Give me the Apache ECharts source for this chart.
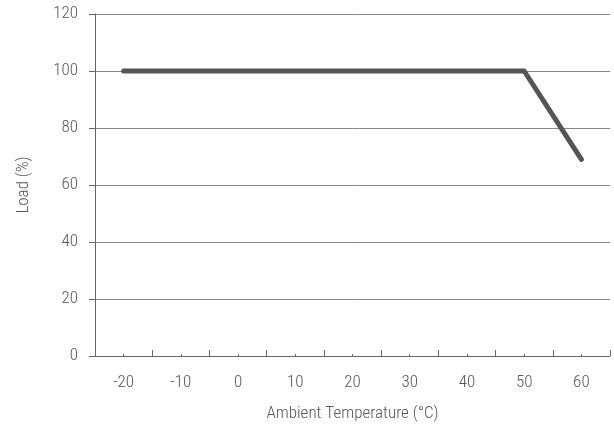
<!DOCTYPE html>
<html><head><meta charset="utf-8">
<script src="https://cdn.jsdelivr.net/npm/echarts@6/dist/echarts.min.js"></script>
<style>html,body{margin:0;padding:0;background:#fff}#c{width:614px;height:427px}</style>
</head><body><div id="c"></div>
<script>
const xLabels = ['-20','-10','0','10','20','30','40','50','60'];
const curveTemp = [-20, 50, 60];
const curveLoad = [100, 100, 69];
const yTicks = [0, 20, 40, 60, 80, 100, 120];

const FONT = '"Roboto Condensed", "Liberation Sans Narrow", Roboto, sans-serif';
const chart = echarts.init(document.getElementById('c'));
chart.setOption({
  animation: false,
  grid: {left: 95, right: 4, top: 14, bottom: 71},
  xAxis: [{
    type: 'value', min: -25, max: 65, interval: 10,
    axisLine: {show: true, onZero: false, lineStyle: {color: '#666', width: 1}},
    axisTick: {show: true, inside: true, length: 6, lineStyle: {color: '#666'}},
    axisLabel: {show: false},
    splitLine: {show: false},
    name: 'Ambient Temperature (°C)', nameLocation: 'middle', nameGap: 49,
    nameTextStyle: {color: '#555', fontSize: 17, fontFamily: FONT, fontWeight: 300}
  }, {
    type: 'category', data: xLabels, position: 'bottom', boundaryGap: true,
    axisLine: {show: false, onZero: false},
    axisTick: {show: true, inside: true, alignWithLabel: true, length: 2, lineStyle: {color: '#666'}},
    axisLabel: {color: '#555', fontSize: 17, fontFamily: FONT, fontWeight: 300, margin: 18},
    splitLine: {show: false}
  }],
  yAxis: {
    type: 'value', min: yTicks[0], max: yTicks[yTicks.length-1], interval: 20,
    axisLine: {show: true, onZero: false, lineStyle: {color: '#666', width: 1}},
    axisTick: {show: true, length: 6, lineStyle: {color: '#666'}},
    axisLabel: {color: '#555', fontSize: 17, fontFamily: FONT, fontWeight: 300, margin: 17},
    splitLine: {show: true, lineStyle: {color: '#888', width: 1}},
    name: 'Load (%)', nameLocation: 'middle', nameGap: 63, nameRotate: 90,
    nameTextStyle: {color: '#555', fontSize: 17, fontFamily: FONT, fontWeight: 300}
  },
  series: [{
    type: 'line', xAxisIndex: 0,
    data: curveTemp.map((t, i) => [t, curveLoad[i]]),
    symbol: 'none',
    lineStyle: {color: '#555', width: 5, cap: 'round', join: 'round'}
  }]
});
</script></body></html>
